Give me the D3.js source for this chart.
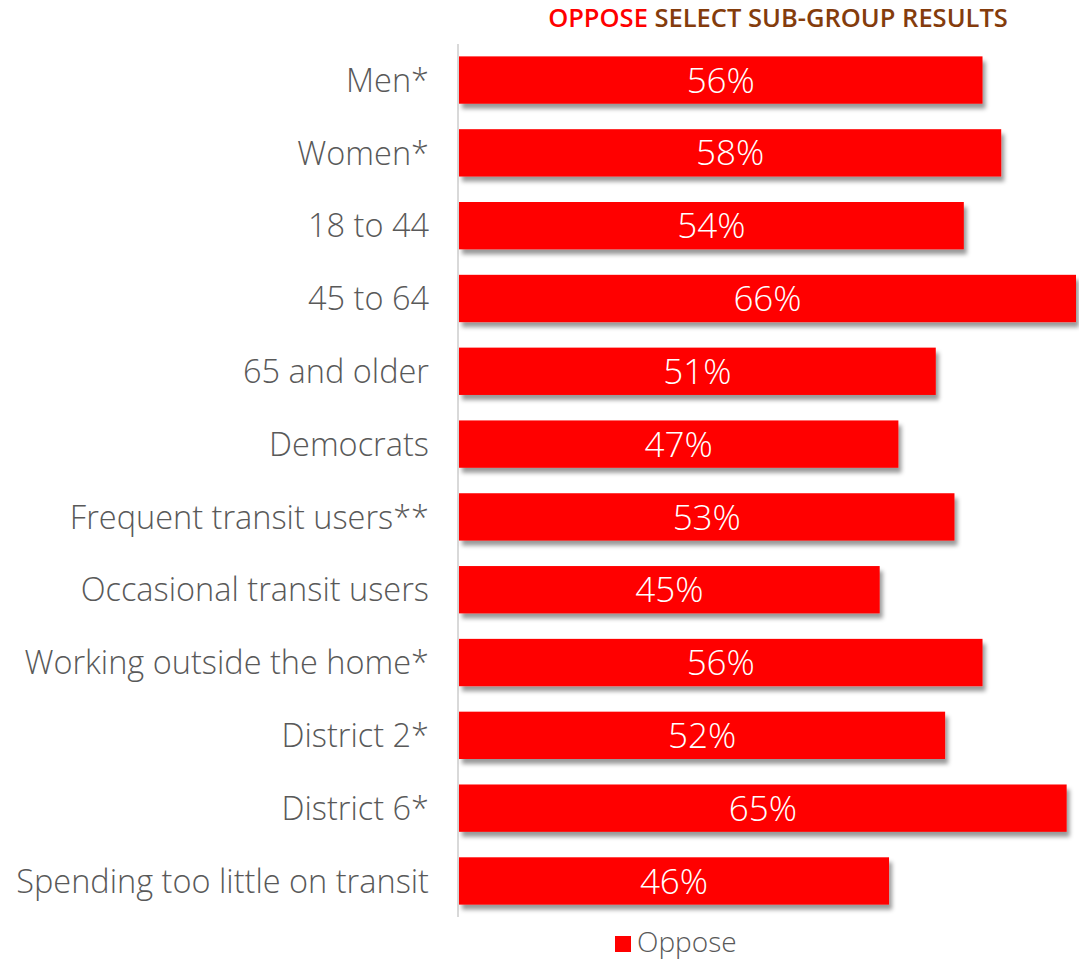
<!DOCTYPE html>
<html><head><meta charset="utf-8">
<script src="https://cdn.jsdelivr.net/npm/d3@7"></script>
<style>body{margin:0;background:#fff}svg{display:block}</style>
</head><body>
<svg id="c" width="1079" height="959"></svg>
<script>
const categories = ["Men*","Women*","18 to 44","45 to 64","65 and older","Democrats","Frequent transit users**","Occasional transit users","Working outside the home*","District 2*","District 6*","Spending too little on transit"];
const oppose = [56,58,54,66,51,47,53,45,56,52,65,46];
const seriesName = "Oppose";

const svg = d3.select("#c");
const defs = svg.append("defs");
const f = defs.append("filter").attr("id","sh").attr("x","-5%").attr("y","-20%").attr("width","115%").attr("height","160%");
f.append("feDropShadow").attr("dx",3).attr("dy",5).attr("stdDeviation",2).attr("flood-color","#000").attr("flood-opacity",0.4);

const x = d3.scaleLinear().domain([0,66]).range([459,1076]);
const y = d3.scaleBand().domain(categories).range([44,917]).paddingInner(0.35).paddingOuter(0.17);

svg.append("line").attr("x1",458).attr("x2",458).attr("y1",44).attr("y2",917).attr("stroke","#d9d9d9").attr("stroke-width",2);

svg.append("g").selectAll("rect").data(categories).join("rect")
  .attr("x",x(0)).attr("y",d=>y(d)).attr("width",(d,i)=>x(oppose[i])-x(0)).attr("height",y.bandwidth())
  .attr("fill","#ff0000").attr("filter","url(#sh)");

const fam = "'Open Sans', sans-serif";
svg.append("g").selectAll("text").data(categories).join("text")
  .attr("x",(d,i)=>(x(0)+x(oppose[i]))/2).attr("y",d=>y(d)+y.bandwidth()/2).attr("dy","0.36em")
  .attr("text-anchor","middle").attr("fill","#fff").attr("font-family",fam).attr("font-weight",300)
  .attr("font-size",35).text((d,i)=>oppose[i]+"%");

svg.append("g").selectAll("text").data(categories).join("text")
  .attr("x",429).attr("y",d=>y(d)+y.bandwidth()/2).attr("dy","0.36em")
  .attr("text-anchor","end").attr("fill","#595959").attr("font-family",fam).attr("font-weight",300)
  .attr("font-size",32.5).text(d=>d);

const t = svg.append("text").attr("x",778).attr("y",27).attr("text-anchor","middle")
  .attr("font-family",fam).attr("font-weight",600).attr("font-size",25.5);
t.append("tspan").attr("fill","#ff0000").text("OPPOSE");
t.append("tspan").attr("fill","#843c0c").text(" SELECT SUB-GROUP RESULTS");

svg.append("rect").attr("x",615).attr("y",936).attr("width",16).attr("height",16).attr("fill","#ff0000");
svg.append("text").attr("x",637).attr("y",952).attr("fill","#595959")
  .attr("font-family",fam).attr("font-weight",300).attr("font-size",28).text(seriesName);
</script>
</body></html>
